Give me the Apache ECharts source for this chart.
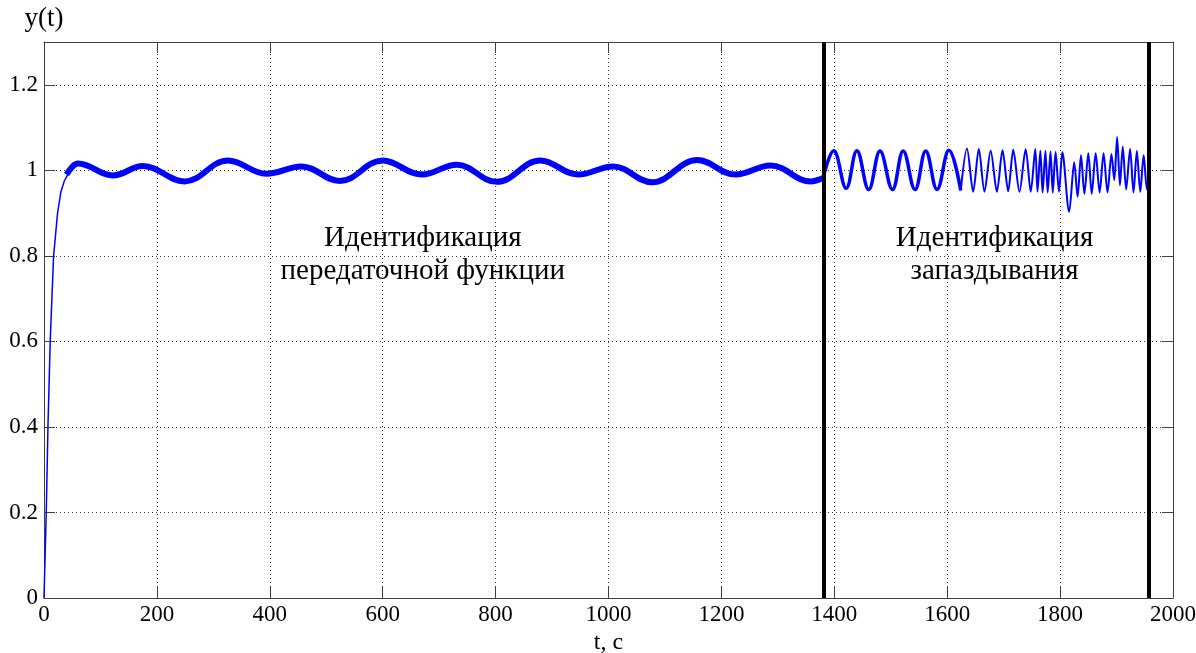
<!DOCTYPE html>
<html>
<head>
<meta charset="utf-8">
<script src="https://cdn.jsdelivr.net/npm/echarts@6/dist/echarts.min.js"></script>
<style>
  html, body { margin: 0; padding: 0; background: #fff; }
  #main { width: 1196px; height: 653px; }
</style>
</head>
<body>
<div id="main"></div>
<script>
// переходный процесс (тонкая линия)
var tRise = [0, 2, 4, 7, 11, 17, 24, 30, 36, 42];
var yRise = [0, 0.1, 0.2, 0.4, 0.6, 0.8, 0.9, 0.95, 0.975, 0.99];

// идентификация передаточной функции
var tBase = [40, 50, 60, 122, 175, 249, 326, 394, 456, 524, 600, 669, 731, 802, 879, 946, 1008, 1077, 1157, 1225, 1287, 1358, 1380];
var yBase = [0.99, 1.008, 1.016, 0.988, 1.010, 0.974, 1.023, 0.992, 1.009, 0.975, 1.023, 0.990, 1.013, 0.973, 1.023, 0.990, 1.009, 0.972, 1.024, 0.990, 1.011, 0.974, 0.982];

// идентификация запаздывания, медленная часть
var tSlow = [1380, 1399, 1421, 1440, 1461, 1481, 1503, 1522, 1543, 1562, 1582, 1603, 1624];
var ySlow = [0.982, 1.046, 0.958, 1.046, 0.955, 1.045, 0.955, 1.045, 0.955, 1.045, 0.955, 1.047, 0.953];

// быстрая часть
var tFast = [1624, 1635, 1646, 1656, 1666, 1677, 1688, 1698, 1708, 1717,
             1728, 1739, 1748, 1756, 1760, 1765, 1769, 1774, 1778, 1783,
             1787, 1792, 1798, 1804, 1816, 1825, 1831, 1837, 1843, 1850,
             1856, 1863, 1870, 1877, 1884, 1891, 1896, 1901, 1906, 1911,
             1917, 1924, 1930, 1936, 1942, 1948, 1954, 1956];
var yFast = [0.953, 1.051, 0.950, 1.050, 0.950, 1.046, 0.950, 1.047, 0.951, 1.048,
             0.950, 1.049, 0.950, 1.050, 0.950, 1.046, 0.948, 1.045, 0.948, 1.044,
             0.948, 1.043, 0.950, 1.042, 0.903, 1.019, 0.938, 1.035, 0.945, 1.040,
             0.945, 1.040, 0.948, 1.040, 0.948, 1.038, 0.977, 1.078, 0.965, 1.055,
             0.955, 1.050, 0.948, 1.045, 0.950, 1.035, 0.955, 0.96];

// границы этапов
var boundaries = [1381, 1957];

// подписи
var noteT = [671, 1684];
var noteY = [0.802, 0.802];
var noteText = ['Идентификация\nпередаточной функции', 'Идентификация\nзапаздывания'];

function zip(a, b) {
    return a.map(function(v, i) { return [v, b[i]]; });
}

var serif = '"Liberation Serif", "Times New Roman", serif';
var axisColor = '#404040';
var blue = '#0000ff';

var chart = echarts.init(document.getElementById('main'));

function lineSeries(t, y, width, smooth) {
    return {
        type: 'line',
        data: zip(t, y),
        showSymbol: false,
        smooth: smooth,
        lineStyle: { color: blue, width: width },
        itemStyle: { color: blue },
        animation: false,
        silent: true,
        z: 3
    };
}

var series = [
    lineSeries(tRise, yRise, 1.5, false),
    lineSeries(tBase, yBase, 6, 0.4),
    lineSeries(tSlow, ySlow, 3.5, 0.4),
    lineSeries(tFast, yFast, 2, 0.3)
];

series[0].markLine = {
    silent: true,
    symbol: ['none', 'none'],
    label: { show: false },
    lineStyle: { color: '#000', width: 4, type: 'solid' },
    data: boundaries.map(function(b) { return { xAxis: b }; }),
    animation: false
};
series[0].markPoint = {
    silent: true,
    symbol: 'circle',
    symbolSize: 0,
    label: {
        show: true,
        position: 'inside',
        formatter: '{b}',
        color: '#000',
        fontFamily: serif,
        fontSize: 29,
        lineHeight: 33,
        align: 'center'
    },
    data: noteText.map(function(s, i) { return { name: s, coord: [noteT[i], noteY[i]] }; }),
    animation: false
};

function plain(v) { return String(v); }

var option = {
    backgroundColor: '#fff',
    animation: false,
    grid: { left: 44, right: 23, top: 42, bottom: 55, outerBoundsMode: 'none', containLabel: false },
    xAxis: [{
        type: 'value',
        min: 0, max: 2000, interval: 200,
        name: 't, с',
        nameLocation: 'middle',
        nameGap: 30,
        nameTextStyle: { color: '#000', fontFamily: serif, fontSize: 24 },
        axisLine: { lineStyle: { color: axisColor, width: 1 } },
        axisTick: { inside: true, length: 11, lineStyle: { color: axisColor } },
        axisLabel: { color: '#000', fontFamily: serif, fontSize: 23, margin: 5, formatter: plain },
        splitLine: { show: true, lineStyle: { color: '#333', width: 1, type: [1, 3] } }
    }, {
        type: 'value',
        position: 'top',
        min: 0, max: 2000, interval: 200,
        axisLine: { show: true, onZero: false, lineStyle: { color: axisColor, width: 1 } },
        axisTick: { inside: true, length: 11, lineStyle: { color: axisColor } },
        axisLabel: { show: false },
        splitLine: { show: false }
    }],
    yAxis: [{
        type: 'value',
        min: 0, max: 1.3, interval: 0.2,
        name: 'y(t)',
        nameLocation: 'end',
        nameGap: 10,
        nameTextStyle: { color: '#000', fontFamily: serif, fontSize: 27, align: 'center' },
        axisLine: { show: true, lineStyle: { color: axisColor, width: 1 } },
        axisTick: { show: true, inside: true, length: 11, lineStyle: { color: axisColor } },
        axisLabel: { color: '#000', fontFamily: serif, fontSize: 23, margin: 6, showMaxLabel: false },
        splitLine: { show: true, lineStyle: { color: '#333', width: 1, type: [1, 3] } }
    }, {
        type: 'value',
        position: 'right',
        min: 0, max: 1.3, interval: 0.2,
        axisLine: { show: true, onZero: false, lineStyle: { color: axisColor, width: 1 } },
        axisTick: { show: true, inside: true, length: 11, lineStyle: { color: axisColor } },
        axisLabel: { show: false },
        splitLine: { show: false }
    }],
    series: series
};

chart.setOption(option);
</script>
</body>
</html>
